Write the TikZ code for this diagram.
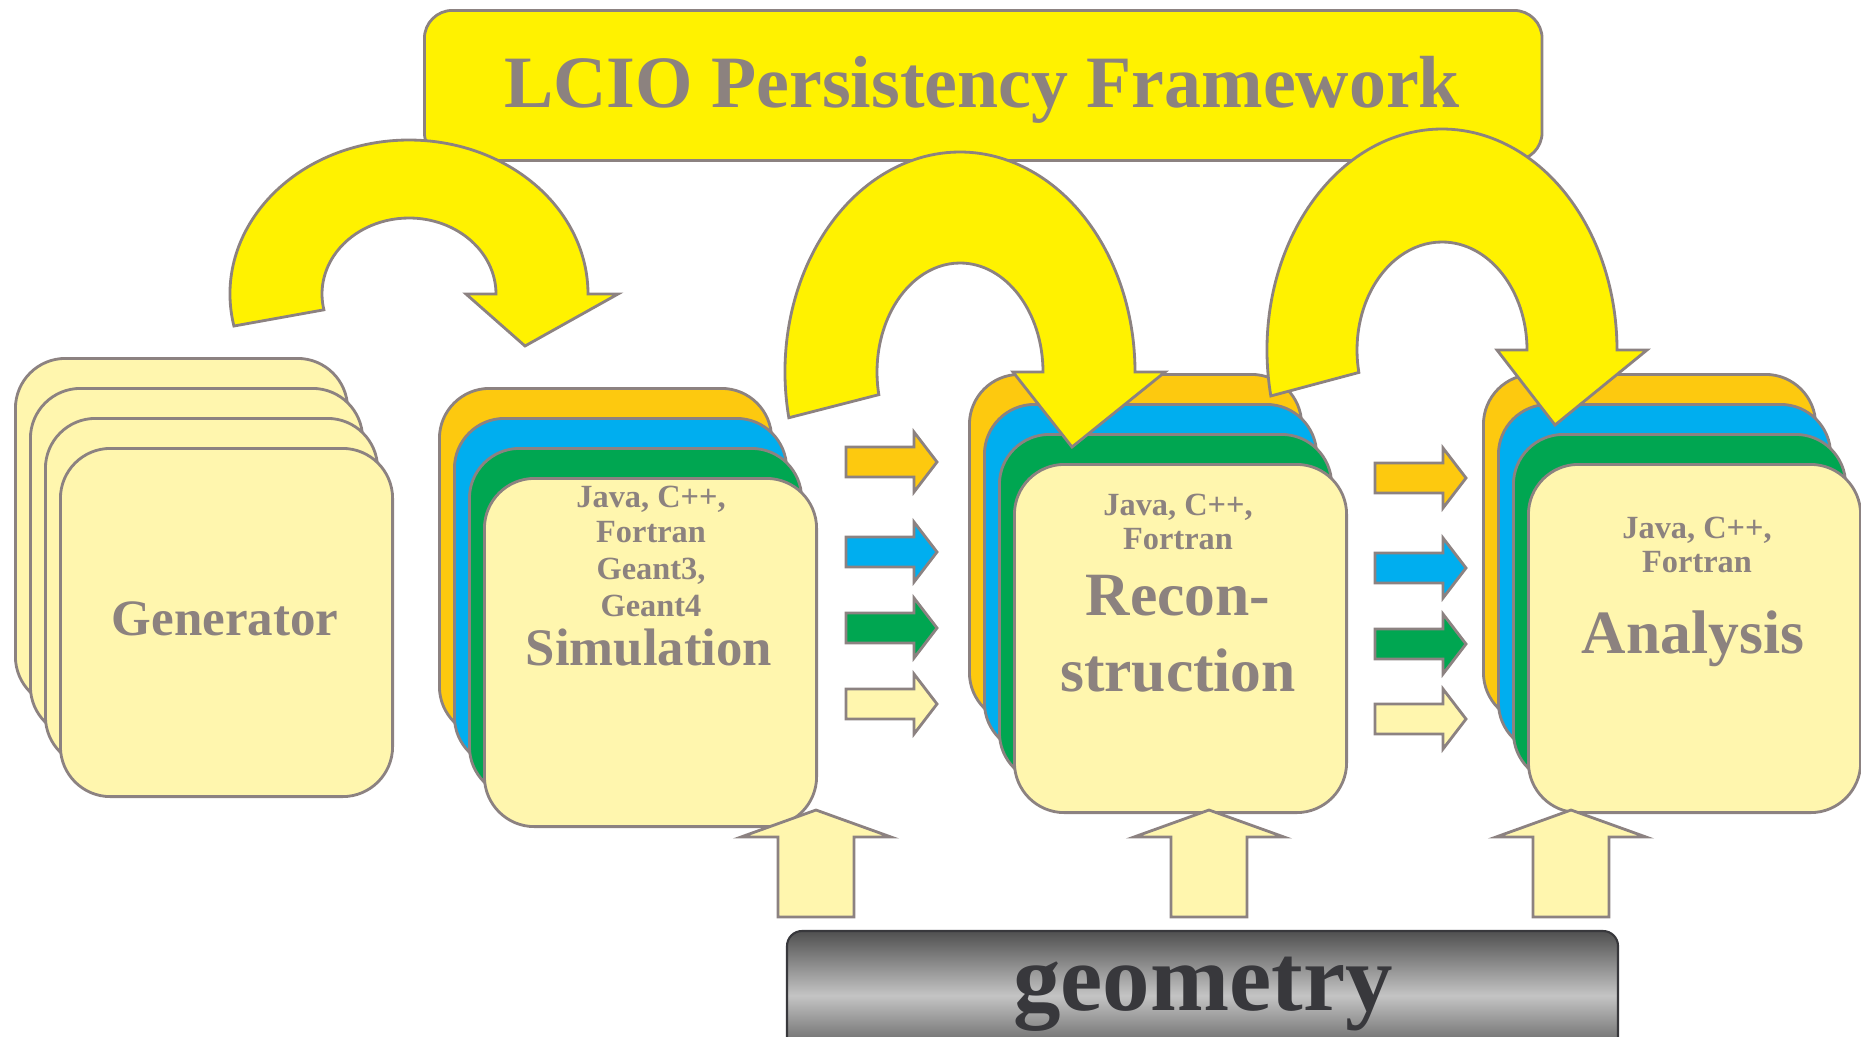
\documentclass[tikz,border=0pt]{standalone}
\usepackage{fontspec}
\setmainfont{Liberation Serif}
\usetikzlibrary{positioning, calc}
\definecolor{lcioyellow}{HTML}{FFF200}
\definecolor{paleyellow}{HTML}{FFF6AE}
\definecolor{gold}{HTML}{FDC90F}
\definecolor{skyblue}{HTML}{00AEEF}
\definecolor{leafgreen}{HTML}{00A651}
\definecolor{edgegray}{HTML}{8C8281}
\definecolor{inkgray}{HTML}{8C827F}
\definecolor{darkink}{HTML}{38383C}
\definecolor{bardark}{HTML}{505050}
\definecolor{barlight}{HTML}{C4C4C4}
\newcommand{\bigturn}[7]{% centre x, centre y, outer radii, inner radii, head length
  \draw[turnarrow] (#1,#2) ++(192:#3 and #4)
    arc[start angle=192, end angle=0, x radius=#3, y radius=#4]
    -- ++(30,0) -- ({#1+(#3+#5)/2-17},{#2-#7}) -- ({#1+#5-30},#2) -- ++(30,0)
    arc[start angle=0, end angle=192, x radius=#5, y radius=#6] -- cycle;
}
\newcommand{\flowarrow}[3]{% left x, middle y, colour
  \draw[blockedge, fill=#3] (#1,{#2+15}) -- ++(68,0) -- ++(0,15) -- ++(23,-30)
    -- ++(-23,-30) -- ++(0,15) -- ++(-68,0) -- cycle;
}
\newcommand{\geoarrow}[1]{% tip x
  \draw[blockedge, fill=paleyellow] (#1,-810) -- ++(75,-27) -- ++(-37,0) -- ++(0,-80)
    -- ++(-76,0) -- ++(0,80) -- ++(-37,0) -- cycle;
}
\tikzset{
  card/.style={draw=edgegray, line width=0.8pt, rounded corners=0.5cm,
               minimum width=3.32cm, minimum height=3.48cm, inner sep=0pt,
               anchor=north west},
  blockedge/.style={draw=edgegray, line width=0.8pt, line join=miter},
  turnarrow/.style={draw=edgegray, line width=0.8pt, fill=lcioyellow},
  langtext/.style={text=inkgray, font=\fontsize{9.2}{11}\selectfont\bfseries,
                   anchor=base, inner sep=0pt},
  stagetext/.style={text=inkgray, font=\fontsize{#1}{#1}\selectfont\bfseries,
                    anchor=base, inner sep=0pt},
}

\begin{document}
\begin{tikzpicture}[x=0.01cm, y=0.01cm]
  \useasboundingbox (0,0) rectangle (1861,-1036);
  \clip (0,0) rectangle (1861,-1036);

  %% Framework banner
  \node[draw=edgegray, line width=0.8pt, fill=lcioyellow, rounded corners=0.28cm,
        minimum width=11.17cm, minimum height=1.5cm, inner sep=0pt,
        anchor=north west] (frame) at (423,-9) {};
  \node[stagetext=21] (framelabel) at (982,-107) {LCIO Persistency Framework};

  %% Generator stack
  \foreach \i in {3,2,1,0}
    \node[card, fill=paleyellow] (gen\i) at ({59-15*\i},{-447+30*\i}) {};
  \node[stagetext=14.5] (genlabel) at (225,-635) {Generator};

  %% Coloured stacks
  \foreach \stage/\x/\y in {sim/483/477, rec/1013/463, ana/1527/463}{
    \foreach \col/\i in {gold/3, skyblue/2, leafgreen/1, paleyellow/0}
      \node[card, fill=\col] (\stage\i) at ({\x-15*\i},{-\y+30*\i}) {};
  }

  \foreach \txt/\y [count=\k] in {{Java, C++,}/507, Fortran/542, {Geant3,}/579, Geant4/616}
    \node[langtext] (simlang\k) at (651,-\y) {\txt};
  \node[stagetext=15] (simlabel) at (649,-665) {Simulation};

  \foreach \txt/\y [count=\k] in {{Java, C++,}/515, Fortran/549}
    \node[langtext] (reclang\k) at (1178,-\y) {\txt};
  \node[stagetext=17.5] (reclabel) at (1178,-615) {Recon-};
  \node[stagetext=17.5] (reclabelb) at (1178,-691) {struction};

  \foreach \txt/\y [count=\k] in {{Java, C++,}/538, Fortran/572}
    \node[langtext] (analang\k) at (1697,-\y) {\txt};
  \node[stagetext=17.5] (analabel) at (1693,-653) {Analysis};

  %% Data flow between stages
  \foreach \col/\y in {gold/462, skyblue/552, leafgreen/628, paleyellow/704}
    \flowarrow{846}{-\y}{\col};
  \foreach \col/\y in {gold/478, skyblue/568, leafgreen/644, paleyellow/719}
    \flowarrow{1375}{-\y}{\col};

  %% Geometry input
  \foreach \tx in {816, 1209, 1571}
    \geoarrow{\tx};
  \shade[draw=darkink, line width=0.6pt, rounded corners=0.15cm,
         top color=bardark, bottom color=bardark, middle color=barlight]
    (787,-931) rectangle (1618,-1060);
  \node[stagetext=27, text=darkink] (geolabel) at (1203,-1010) {geometry};

  %% Persistency hops
  \bigturn{409}{-294}{179}{154}{87}{76}{52}
  \bigturn{960}{-372}{175}{220}{83}{109}{75}
  \bigturn{1442}{-350}{175}{221}{85}{108}{75}

\end{tikzpicture}
\end{document}
